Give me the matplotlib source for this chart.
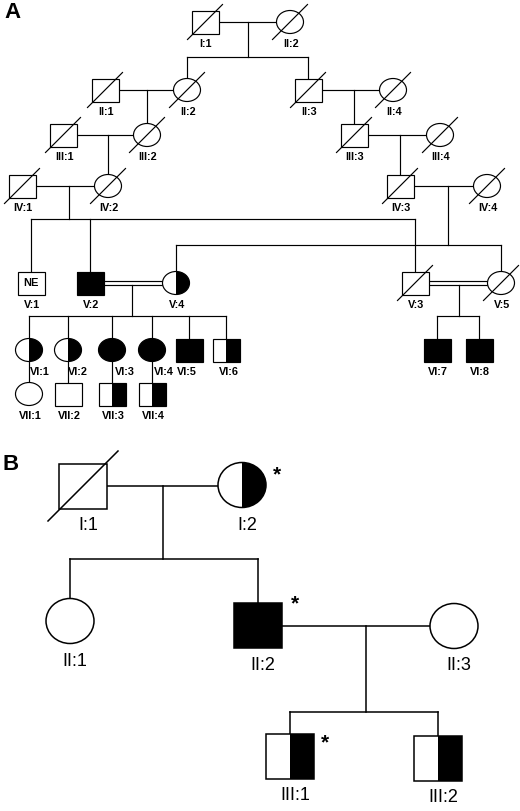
import numpy as np
import matplotlib
matplotlib.use('Agg')
import matplotlib.pyplot as plt
from matplotlib.patches import Rectangle, Ellipse, Polygon

plt.rcParams['font.family'] = ['Liberation Sans', 'DejaVu Sans']

# ---------------- panel A data ----------------
a_keys = ['I1', 'I2', 'II1', 'II2', 'II3', 'II4', 'III1', 'III2', 'III3', 'III4',
          'IV1', 'IV2', 'IV3', 'IV4', 'V1', 'V2', 'V3', 'V4', 'V5',
          'VI1', 'VI2', 'VI3', 'VI4', 'VI5', 'VI6', 'VI7', 'VI8',
          'VII1', 'VII2', 'VII3', 'VII4']
# labels as printed in the figure (top female is printed "II:2")
a_labels = ['I:1', 'II:2', 'II:1', 'II:2', 'II:3', 'II:4', 'III:1', 'III:2', 'III:3', 'III:4',
            'IV:1', 'IV:2', 'IV:3', 'IV:4', 'V:1', 'V:2', 'V:3', 'V:4', 'V:5',
            'VI:1', 'VI:2', 'VI:3', 'VI:4', 'VI:5', 'VI:6', 'VI:7', 'VI:8',
            'VII:1', 'VII:2', 'VII:3', 'VII:4']
a_sex = ['m', 'f', 'm', 'f', 'm', 'f', 'm', 'f', 'm', 'f',
         'm', 'f', 'm', 'f', 'm', 'm', 'm', 'f', 'f',
         'f', 'f', 'f', 'f', 'm', 'm', 'm', 'm',
         'f', 'm', 'm', 'm']
# n = unaffected, a = affected, c = carrier (half filled)
a_status = ['n', 'n', 'n', 'n', 'n', 'n', 'n', 'n', 'n', 'n',
            'n', 'n', 'n', 'n', 'n', 'a', 'n', 'c', 'n',
            'c', 'c', 'a', 'a', 'a', 'c', 'a', 'a',
            'n', 'n', 'c', 'c']
a_dead = ['I1', 'I2', 'II1', 'II2', 'II3', 'II4', 'III1', 'III2', 'III3', 'III4',
          'IV1', 'IV2', 'IV3', 'IV4', 'V3', 'V5']
a_inner_text = {'V1': 'NE'}

# couples: partner, partner, consanguineous, children
a_couples = [('I1', 'I2', False, ['II2', 'II3']),
             ('II1', 'II2', False, ['III2']),
             ('II3', 'II4', False, ['III3']),
             ('III1', 'III2', False, ['IV2']),
             ('III3', 'III4', False, ['IV3']),
             ('IV1', 'IV2', False, ['V1', 'V2', 'V3']),
             ('IV3', 'IV4', False, ['V4', 'V5']),
             ('V2', 'V4', True, ['VI1', 'VI2', 'VI3', 'VI4', 'VI5', 'VI6']),
             ('V3', 'V5', True, ['VI7', 'VI8'])]
# parent -> child with the other parent not shown
a_descent = [('VI1', 'VII1'), ('VI2', 'VII2'), ('VI3', 'VII3'), ('VI4', 'VII4')]

# ---------------- panel B data ----------------
b_keys = ['I1', 'I2', 'II1', 'II2', 'II3', 'III1', 'III2']
b_labels = ['I:1', 'I:2', 'II:1', 'II:2', 'II:3', 'III:1', 'III:2']
b_sex = ['m', 'f', 'f', 'm', 'f', 'm', 'm']
b_status = ['n', 'c', 'n', 'a', 'n', 'c', 'c']
b_dead = ['I1']
b_marked = ['I2', 'II2', 'III1']
b_couples = [('I1', 'I2', False, ['II1', 'II2']),
             ('II2', 'II3', False, ['III1', 'III2'])]

# ---------------- layout (pixel positions) ----------------
a_pos = {'I1': (205, 22), 'I2': (290, 22),
         'II1': (105, 90), 'II2': (187, 90), 'II3': (308, 90), 'II4': (393, 90),
         'III1': (63, 135), 'III2': (147, 135), 'III3': (354, 135), 'III4': (440, 135),
         'IV1': (22, 186), 'IV2': (108, 186), 'IV3': (400, 186), 'IV4': (487, 186),
         'V1': (31, 283), 'V2': (90, 283), 'V3': (415, 283), 'V4': (176, 283), 'V5': (501, 283),
         'VI1': (29, 350), 'VI2': (68, 350), 'VI3': (112, 350), 'VI4': (152, 350),
         'VI5': (189, 350), 'VI6': (226, 350), 'VI7': (437, 350), 'VI8': (479, 350),
         'VII1': (29, 394), 'VII2': (68, 394), 'VII3': (112, 394), 'VII4': (152, 394)}
a_drop = [(248, 57), (147, None), (354, None), (108, None), (400, None),
          (69, 219), (448, 245), (132, 316), (459, 316)]
# label shift for VI:1-VI:4 (line of descent runs under the label)
a_label_dx = {'VI1': 11, 'VI2': 10, 'VI3': 13, 'VI4': 12, 'VI5': -2, 'VI6': 3}

b_pos = {'I1': (83, 486), 'I2': (242, 485), 'II1': (70, 621), 'II2': (258, 625),
         'II3': (454, 626), 'III1': (290, 756), 'III2': (438, 758)}
b_drop = [(163, 559), (366, 712)]
b_star = {'I2': (277, 471), 'II2': (295, 600), 'III1': (325, 739)}


fig = plt.figure(figsize=(5.2, 8.11), dpi=100)
ax = fig.add_axes([0, 0, 1, 1])
ax.set_xlim(0, 520)
ax.set_ylim(811, 0)
ax.axis('off')


def draw_person(x, y, w, h, sex, status, dead, lw, slash):
    if sex == 'm':
        ax.add_patch(Rectangle((x - w / 2, y - h / 2), w, h, facecolor='white',
                               edgecolor='none', zorder=2))
        if status == 'a':
            ax.add_patch(Rectangle((x - w / 2, y - h / 2), w, h, facecolor='black',
                                   edgecolor='none', zorder=3))
        elif status == 'c':
            ax.add_patch(Rectangle((x, y - h / 2), w / 2, h, facecolor='black',
                                   edgecolor='none', zorder=3))
        ax.add_patch(Rectangle((x - w / 2, y - h / 2), w, h, facecolor='none',
                               edgecolor='black', lw=lw, zorder=4))
    else:
        ax.add_patch(Ellipse((x, y), w, h, facecolor='white', edgecolor='none', zorder=2))
        if status == 'a':
            ax.add_patch(Ellipse((x, y), w, h, facecolor='black', edgecolor='none', zorder=3))
        elif status == 'c':
            t = np.linspace(-np.pi / 2, np.pi / 2, 60)
            pts = np.column_stack([x + w / 2 * np.cos(t), y + h / 2 * np.sin(t)])
            ax.add_patch(Polygon(pts, closed=True, facecolor='black',
                                 edgecolor='none', zorder=3))
        ax.add_patch(Ellipse((x, y), w, h, facecolor='none', edgecolor='black',
                             lw=lw, zorder=4))
    if dead:
        ax.plot([x - slash, x + slash], [y + slash, y - slash], color='black',
                lw=lw, zorder=5)


def draw_lines(pos, couples, drops, h, lw, gap):
    for (p1, p2, consang, kids), (dx, sy) in zip(couples, drops):
        x1, y1 = pos[p1]
        x2, y2 = pos[p2]
        ym = (y1 + y2) / 2
        if consang:
            ax.plot([x1, x2], [ym - gap, ym - gap], color='black', lw=lw, zorder=1)
            ax.plot([x1, x2], [ym + gap, ym + gap], color='black', lw=lw, zorder=1)
            ystart = ym + gap
        else:
            ax.plot([x1, x2], [ym, ym], color='black', lw=lw, zorder=1)
            ystart = ym
        kid_x = [pos[k][0] for k in kids]
        if sy is None:
            ky = pos[kids[0]][1] - h / 2
            ax.plot([dx, dx], [ystart, ky], color='black', lw=lw, zorder=1)
            continue
        ax.plot([dx, dx], [ystart, sy], color='black', lw=lw, zorder=1)
        ax.plot([min(kid_x), max(kid_x)], [sy, sy], color='black', lw=lw, zorder=1)
        for k in kids:
            kx, ky = pos[k]
            ax.plot([kx, kx], [sy, ky - h / 2], color='black', lw=lw, zorder=1)


# ---- panel A ----
aw, ah = 27, 23
draw_lines(a_pos, a_couples, a_drop, ah, 0.85, 1.8)
for par, kid in a_descent:
    px, py = a_pos[par]
    kx, ky = a_pos[kid]
    ax.plot([px, px], [py + ah / 2, ky - ah / 2], color='black', lw=0.85, zorder=1)
for k, lab, s, st in zip(a_keys, a_labels, a_sex, a_status):
    x, y = a_pos[k]
    draw_person(x, y, aw, ah, s, st, k in a_dead, 0.85, 17.5)
    if k in a_inner_text:
        ax.text(x, y, a_inner_text[k], ha='center', va='center', fontsize=8,
                fontweight='bold', zorder=6)
    ax.text(x + a_label_dx.get(k, 1), y + 22, lab, ha='center', va='center',
            fontsize=7.8, fontweight='bold', zorder=6)
ax.text(4, 13, 'A', ha='left', va='center', fontsize=16, fontweight='bold')

# ---- panel B ----
bw, bh = 48, 45
draw_lines(b_pos, b_couples, b_drop, bh, 1.1, 1.8)
for k, lab, s, st in zip(b_keys, b_labels, b_sex, b_status):
    x, y = b_pos[k]
    draw_person(x, y, bw, bh, s, st, k in b_dead, 1.1, 35)
    ax.text(x + 5, y + 40, lab, ha='center', va='center', fontsize=13, zorder=6)
for k in b_marked:
    sx, sy = b_star[k]
    ax.text(sx, sy + 4, '*', ha='center', va='center', fontsize=15,
            fontweight='bold', zorder=6)
ax.text(3, 464, 'B', ha='left', va='center', fontsize=16, fontweight='bold')

fig.savefig('out.png', dpi=100)
